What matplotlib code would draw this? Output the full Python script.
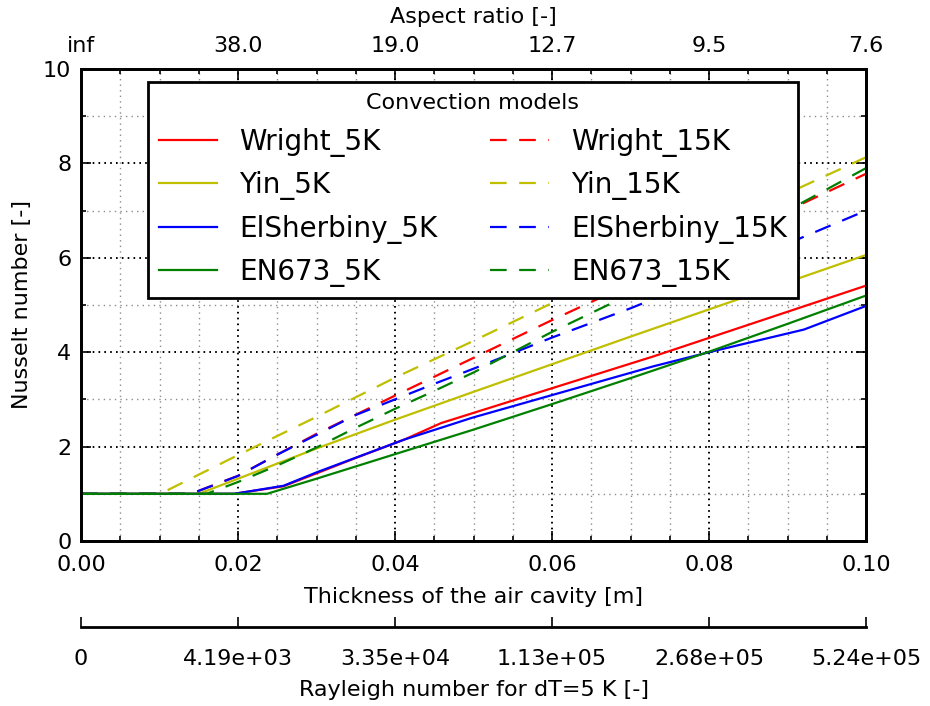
import numpy as np
import matplotlib
matplotlib.use('Agg')
import matplotlib.pyplot as plt
from matplotlib.ticker import MultipleLocator

# data
# thickness of the air cavity [m] / Nusselt number [-]
x_wright_5 = [0, 0.0195, 0.0258, 0.0301, 0.035, 0.0412, 0.0459, 0.0729, 0.1]
nu_wright_5 = [1, 1, 1.16, 1.44, 1.76, 2.15, 2.5, 3.91, 5.41]

x_yin_5 = [0, 0.015, 0.02, 0.03, 0.04, 0.05, 0.07, 0.1]
nu_yin_5 = [1, 1, 1.32, 1.96, 2.57, 3.16, 4.33, 6.06]

x_elsh_5 = [0, 0.0195, 0.0258, 0.0301, 0.0412, 0.0472, 0.0498, 0.0729, 0.0805, 0.0921, 0.1]
nu_elsh_5 = [1, 1, 1.17, 1.46, 2.15, 2.47, 2.61, 3.70, 4.02, 4.48, 4.98]

x_en673_5 = [0, 0.0237, 0.03, 0.04, 0.05, 0.06, 0.07, 0.08, 0.09, 0.1]
nu_en673_5 = [1, 1, 1.32, 1.84, 2.36, 2.9, 3.45, 4.01, 4.6, 5.2]

x_wright_15 = [0, 0.014, 0.02, 0.025, 0.03, 0.04, 0.05, 0.06, 0.07, 0.08, 0.09, 0.1]
nu_wright_15 = [1, 1, 1.38, 1.83, 2.27, 3.08, 3.88, 4.68, 5.45, 6.22, 7.0, 7.78]

x_yin_15 = [0, 0.0101, 0.02, 0.03, 0.04, 0.05, 0.06, 0.08, 0.1]
nu_yin_15 = [1, 1, 1.82, 2.63, 3.46, 4.24, 5.04, 6.6, 8.13]

x_elsh_15 = [0, 0.014, 0.02, 0.025, 0.03, 0.035, 0.04, 0.045, 0.05, 0.06, 0.07, 0.08, 0.09, 0.1]
nu_elsh_15 = [1, 1, 1.38, 1.83, 2.25, 2.67, 3.0, 3.33, 3.65, 4.31, 4.93, 5.6, 6.3, 7.0]

x_en673_15 = [0, 0.016, 0.02, 0.025, 0.03, 0.035, 0.04, 0.045, 0.05, 0.06, 0.07, 0.08, 0.09, 0.1]
nu_en673_15 = [1, 1, 1.25, 1.6, 1.98, 2.4, 2.8, 3.18, 3.57, 4.43, 5.23, 6.1, 7.0, 7.9]

# secondary axes
tick_pos = [0.0, 0.02, 0.04, 0.06, 0.08, 0.10]
aspect_labels = ['inf', '38.0', '19.0', '12.7', '9.5', '7.6']
rayleigh_labels = ['0', '4.19e+03', '3.35e+04', '1.13e+05', '2.68e+05', '5.24e+05']

plt.rcParams['font.family'] = 'DejaVu Sans'
plt.rcParams['font.size'] = 16
plt.rcParams['lines.scale_dashes'] = False

fig = plt.figure(figsize=(9.3, 7.06), dpi=100)
ax = fig.add_axes([0.0871, 0.2337, 0.8441, 0.6686])

dash = (0, (12, 9))
lw = 1.6
ax.plot(x_wright_5, nu_wright_5, color='r', lw=lw, label='Wright_5K')
ax.plot(x_wright_15, nu_wright_15, color='r', lw=lw, ls=dash, label='Wright_15K')
ax.plot(x_yin_5, nu_yin_5, color=(0.75, 0.75, 0), lw=lw, label='Yin_5K')
ax.plot(x_yin_15, nu_yin_15, color=(0.75, 0.75, 0), lw=lw, ls=dash, label='Yin_15K')
ax.plot(x_elsh_5, nu_elsh_5, color='b', lw=lw, label='ElSherbiny_5K')
ax.plot(x_elsh_15, nu_elsh_15, color='b', lw=lw, ls=dash, label='ElSherbiny_15K')
ax.plot(x_en673_5, nu_en673_5, color=(0, 0.5, 0), lw=lw, label='EN673_5K')
ax.plot(x_en673_15, nu_en673_15, color=(0, 0.5, 0), lw=lw, ls=dash, label='EN673_15K')

ax.set_xlim(0, 0.1)
ax.set_ylim(0, 10)
ax.set_xticks(tick_pos)
ax.set_xticklabels(['%.2f' % t for t in tick_pos])
ax.xaxis.set_minor_locator(MultipleLocator(0.005))
ax.yaxis.set_major_locator(MultipleLocator(2))
ax.yaxis.set_minor_locator(MultipleLocator(1))
ax.grid(which='major', ls=(0, (1.2, 3)), color='k', lw=1.4)
ax.grid(which='minor', ls=(0, (1, 3)), color='0.55', lw=1.0)
ax.tick_params(which='both', direction='in', right=True, top=False, width=1.2)
ax.tick_params(which='major', length=7)
ax.tick_params(axis='x', which='major', pad=10)
ax.tick_params(axis='y', which='major', pad=7)
ax.tick_params(which='minor', length=3.5)
for s in ax.spines.values():
    s.set_linewidth(2)
ax.set_xlabel('Thickness of the air cavity [m]', labelpad=9)
ax.set_ylabel('Nusselt number [-]', labelpad=8)

# legend: solid lines in the first column, dashed in the second
h, l = ax.get_legend_handles_labels()
order = [0, 2, 4, 6, 1, 3, 5, 7]
leg = ax.legend([h[i] for i in order], [l[i] for i in order], ncol=2,
                loc='upper left', bbox_to_anchor=(0.085, 0.972), borderaxespad=0,
                fontsize=20, title='Convection models', title_fontsize=16,
                fancybox=False, framealpha=1, edgecolor='k',
                handlelength=2.1, handletextpad=0.8, columnspacing=1.9,
                labelspacing=0.52)
leg.get_frame().set_linewidth(2)

# top axis: aspect ratio
ax_top = ax.twiny()
ax_top.set_xlim(ax.get_xlim())
ax_top.set_xticks(tick_pos)
ax_top.set_xticklabels(aspect_labels)
ax_top.xaxis.set_minor_locator(MultipleLocator(0.005))
ax_top.tick_params(which='both', direction='in', width=1.2)
ax_top.tick_params(which='major', length=7, pad=9.5)
ax_top.tick_params(which='minor', length=3.5)
ax_top.set_xlabel('Aspect ratio [-]', labelpad=9)
for s in ax_top.spines.values():
    s.set_linewidth(2)

# bottom offset axis: Rayleigh number
ax_ra = ax.twiny()
ax_ra.set_xlim(ax.get_xlim())
ax_ra.xaxis.set_ticks_position('bottom')
ax_ra.xaxis.set_label_position('bottom')
ax_ra.spines['bottom'].set_position(('outward', 62))
for name in ['top', 'left', 'right']:
    ax_ra.spines[name].set_visible(False)
ax_ra.spines['bottom'].set_linewidth(2)
ax_ra.set_xticks(tick_pos)
ax_ra.set_xticklabels(rayleigh_labels)
ax_ra.tick_params(direction='in', length=7, width=1.2, pad=16)
ax_ra.set_xlabel('Rayleigh number for dT=5 K [-]', labelpad=8)

plt.savefig('out.png', dpi=100)
plt.close()
